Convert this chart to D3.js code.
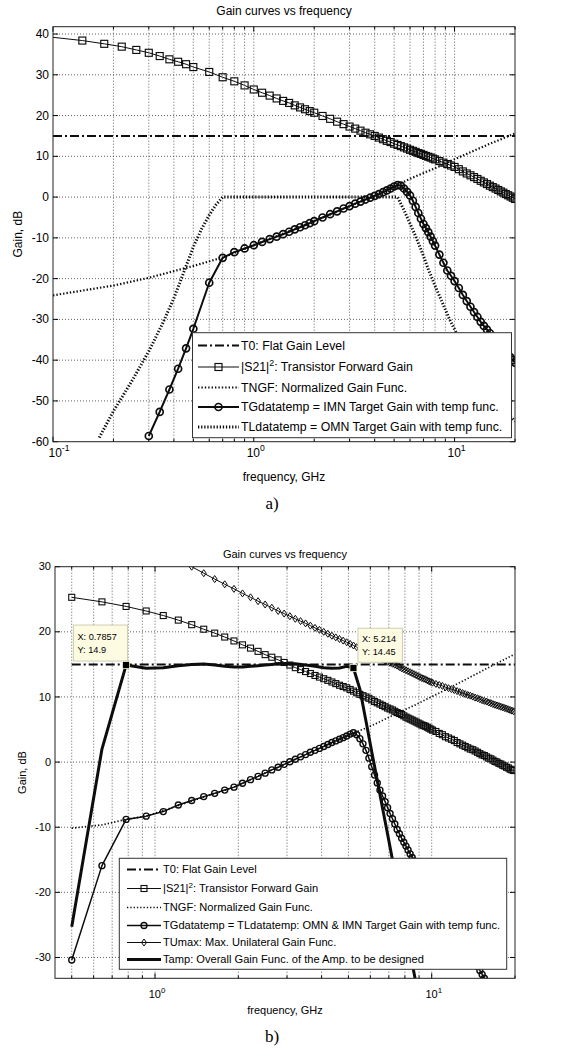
<!DOCTYPE html>
<html>
<head>
<meta charset="utf-8">
<script src="https://cdn.jsdelivr.net/npm/d3@7"></script>
<style>
  body { margin: 0; background: #fff; }
  svg { display: block; font-family: "Liberation Sans", Arial, sans-serif; }
</style>
</head>
<body>
<svg id="fig" width="563" height="1048"></svg>
<script>
// ---------- panel a) data ----------
const freqA = [0.1,0.14,0.18,0.22,0.26,0.3,0.34,0.38,0.42,0.46,0.5,0.6,0.7,0.8,0.9,1.0,1.1,1.2,1.3,1.4,1.5,1.6,1.7,1.8,1.9,2.0,
  2.2,2.4,2.6,2.8,3.0,3.2,3.4,3.6,3.8,4.0,4.2,4.4,4.6,4.8,5.0,5.2,5.4,5.6,5.8,6.0,6.2,6.4,6.6,6.8,7.0,7.2,7.4,7.6,7.8,8.0,
  8.4,8.8,9.2,9.6,10,10.5,11,11.5,12,12.5,13,13.5,14,14.5,15,15.5,16,16.5,17,17.5,18,18.5,19,19.5,20];
const s21A = [39.2,38.4,37.6,36.9,36.1,35.4,34.6,33.8,33.2,32.6,31.9,30.7,29.4,28.4,27.4,26.4,25.6,24.9,24.2,23.6,23.1,22.5,22.0,21.55,21.1,20.7,
  19.9,19.2,18.5,17.9,17.3,16.8,16.3,15.8,15.4,15.0,14.6,14.2,13.8,13.5,13.1,12.8,12.5,12.2,11.9,11.6,11.35,11.1,10.8,10.6,10.35,10.1,9.9,9.7,9.45,9.25,
  8.85,8.45,8.1,7.75,7.4,6.85,6.3,5.8,5.35,4.9,4.45,4.0,3.6,3.2,2.8,2.45,2.1,1.75,1.4,1.1,0.75,0.45,0.15,-0.15,-0.45];
const tgA = [null,null,null,null,null,-58.6,-52.7,-47.2,-42.1,-37.1,-32.3,-21.0,-14.9,-13.5,-12.6,-11.8,-11.0,-10.3,-9.7,-9.1,-8.5,-7.9,-7.4,-6.9,-6.4,-5.9,
  -5.0,-4.2,-3.5,-2.8,-2.2,-1.6,-1.1,-0.6,-0.15,0.3,0.75,1.2,1.65,2.1,2.6,2.95,2.8,2.1,1.3,0.4,-0.9,-2.4,-3.9,-5.3,-6.6,-7.6,-8.6,-9.7,-10.8,-11.9,
  -14.1,-16.1,-18.0,-19.3,-20.6,-22.3,-24.0,-25.5,-26.9,-28.2,-29.4,-30.6,-31.6,-32.5,-33.4,-34.2,-35.0,-35.7,-36.5,-37.2,-38.0,-38.7,-39.3,-40.0,-40.6];
const tngfFreqA = [0.1,0.2,0.3,0.5,0.7,1.0,2.0,3.0,4.0,5.2,6.0,7.0,8.0,10,12,15,20];
const tngfA = [-24.1,-21.7,-19.8,-16.9,-14.8,-11.8,-5.9,-2.2,0.3,2.95,4.5,5.9,7.1,9.3,11.0,13.1,15.6];
const tlFreqA = [0.17,0.2,0.25,0.3,0.35,0.4,0.45,0.5,0.55,0.6,0.65,0.7,5.2,5.6,6.0,6.4,7.0,7.4,8.0,8.7,9.4,10.2,12,15,20];
const tlA = [-59,-52.5,-44.7,-37.8,-31.2,-24.8,-18.2,-12.2,-7.8,-4.4,-1.8,0,0,-3.2,-6.5,-9.6,-14.4,-17.7,-21.8,-25.9,-29.8,-33.3,-40.5,-48.5,-55];
const t0FreqA = [0.1, 20];
const t0A = [15, 15];

// ---------- panel b) data ----------
const freqB = [0.5,0.643,0.786,0.929,1.071,1.214,1.357,1.5,1.643,1.786,1.929,2.071,2.214,2.357,2.5,2.643,2.786,2.929,
  3.071,3.214,3.357,3.5,3.643,3.786,3.929,4.071,4.214,4.357,4.5,4.643,4.786,4.929,5.071,5.214,5.357,5.5,5.643,5.786,5.929,
  6.071,6.214,6.357,6.5,6.643,6.786,6.929,7.071,7.214,7.357,7.5,7.643,7.786,7.929,8.071,8.214,8.357,8.5,8.643,8.786,8.929,
  9.071,9.214,9.357,9.5,9.643,9.786,9.929,10.071,
  10.357,10.643,10.929,11.214,11.5,11.786,12.071,12.357,12.643,12.929,13.214,13.5,13.786,14.071,14.357,14.643,14.929,
  15.214,15.5,15.786,16.071,16.357,16.643,16.929,17.214,17.5,17.786,18.071,18.357,18.643,18.929,19.214,19.5,19.786];
const s21B = [25.3,24.6,23.9,23.2,22.5,21.8,21.1,20.4,19.8,19.2,18.6,18.0,17.5,17.0,16.5,16.1,15.7,15.3,
  14.9,14.5,14.2,13.9,13.6,13.3,13.05,12.8,12.55,12.3,12.05,11.8,11.6,11.4,11.15,10.9,10.65,10.4,10.2,10.0,9.8,
  9.55,9.3,9.1,8.9,8.7,8.5,8.3,8.15,8.0,7.8,7.6,7.45,7.3,7.1,6.9,6.75,6.6,6.45,6.3,6.15,6.0,
  5.85,5.7,5.6,5.5,5.35,5.2,5.05,4.9,
  4.7,4.4,4.2,3.9,3.7,3.5,3.3,3.0,2.8,2.6,2.4,2.2,2.0,1.9,1.7,1.5,1.3,
  1.1,1.0,0.8,0.6,0.5,0.3,0.1,0.0,-0.2,-0.3,-0.5,-0.6,-0.8,-0.9,-1.1,-1.2,-1.3];
const tgB = [-30.4,-15.9,-8.8,-8.3,-7.6,-6.6,-5.9,-5.3,-4.8,-4.3,-3.85,-3.25,-2.7,-2.2,-1.7,-1.2,-0.8,-0.35,
  0.05,0.43,0.8,1.15,1.5,1.8,2.1,2.4,2.7,3.0,3.25,3.5,3.75,4.0,4.3,4.5,4.2,3.6,2.8,1.8,0.6,
  -0.7,-2.0,-3.2,-4.3,-5.2,-6.1,-7.0,-7.9,-8.7,-9.5,-10.35,-11.0,-11.7,-12.3,-12.9,-13.5,-14.1,-14.65,-15.2,-15.7,-16.2,
  -16.7,-17.2,-17.65,-18.1,-18.55,-19.0,-19.45,-19.9,
  -20.8,-21.6,-22.4,-23.2,-24.0,-24.7,-25.5,-26.2,-26.9,-27.6,-28.3,-28.9,-29.6,-30.2,-30.8,-31.4,-32.0,
  -32.6,-33.2,-33.7,-34.3,-34.8,-35.4,-35.9,-36.4,-36.9,-37.4,-37.9,-38.4,-38.8,-39.3,-39.8,-40.2,-40.7];
const tuB = [null,null,null,null,null,null,30.0,29.0,28.1,27.3,26.6,25.9,25.3,24.7,24.2,23.7,23.2,22.8,
  22.4,22.0,21.65,21.3,20.95,20.6,20.3,20.0,19.7,19.4,19.15,18.9,18.65,18.4,18.15,17.9,17.65,17.4,17.2,17.0,16.8,
  16.6,16.4,16.2,16.0,15.8,15.6,15.4,15.25,15.1,14.95,14.8,14.6,14.4,14.25,14.1,13.95,13.8,13.65,13.5,13.35,13.2,
  13.05,12.9,12.8,12.7,12.55,12.4,12.3,12.2,
  12.0,11.85,11.7,11.5,11.35,11.2,11.05,10.9,10.75,10.6,10.45,10.3,10.2,10.05,9.9,9.8,9.65,
  9.5,9.4,9.3,9.15,9.05,8.9,8.8,8.7,8.6,8.5,8.4,8.3,8.2,8.1,8.0,7.9,7.8];
const tampFreq = [0.5,0.643,0.786,0.929,1.071,1.214,1.357,1.5,1.643,1.786,1.929,2.071,2.214,2.357,2.5,2.643,2.786,2.929,
  3.214,3.5,3.786,4.071,4.357,4.643,4.929,5.214,5.5,5.786,6.071,6.357,6.643,6.929,7.214,7.5,7.786,8.071,8.357,8.643,8.929];
const tampB = [-25.3,2.0,14.9,14.4,14.5,14.8,15.0,15.05,14.9,14.7,14.6,14.6,14.7,14.8,14.9,15.0,15.1,15.15,
  15.1,14.9,14.7,14.5,14.4,14.45,14.7,14.45,11.2,6.3,1.6,-2.8,-7.1,-11.1,-15.0,-18.8,-22.4,-25.9,-29.2,-32.5,-35.6];
const tngfFreqB = [0.5,0.643,0.786,0.929,1.929,2.929,4.071,5.214,5.786,6.357,7.5,8.643,10.071,12.357,15.214,19.786];
const tngfB = [-10.15,-9.65,-8.8,-8.3,-3.85,-0.35,2.4,4.5,5.2,6.0,7.5,8.7,10.1,12.0,14.0,16.5];
const t0FreqB = [0.5, 20];
const t0B = [15, 15];
const tipF = [0.7857, 5.214];
const tipV = [14.9, 14.45];

const ticksA = [40,30,20,10,0,-10,-20,-30,-40,-50,-60];
const ticksB = [30,20,10,0,-10,-20,-30];

const svg = d3.select("#fig");
const INK = "#0d0d0d";

function marker(g, type, cx, cy, size, mw) {
  const h = size / 2;
  let m;
  if (type === "o") m = g.append("circle").attr("cx", cx).attr("cy", cy).attr("r", h);
  else if (type === "s") m = g.append("rect").attr("x", cx - h).attr("y", cy - h).attr("width", size).attr("height", size);
  else m = g.append("path").attr("d", `M${cx},${cy - h}L${cx + h * 0.72},${cy}L${cx},${cy + h}L${cx - h * 0.72},${cy}Z`);
  m.attr("fill", "none").attr("stroke", INK).attr("stroke-width", mw);
}

function richText(g, parts, x, y, fs, anchor) {
  const t = g.append("text").attr("x", x).attr("y", y).attr("font-size", fs)
    .attr("fill", "#000").attr("text-anchor", anchor || "start");
  let up = false;
  parts.forEach(p => {
    const sp = t.append("tspan").text(p.t);
    if (p.sup) { sp.attr("dy", -fs * 0.42).attr("font-size", fs * 0.72); up = true; }
    else if (up) { sp.attr("dy", fs * 0.42); up = false; }
  });
  return t;
}

function drawPanel(p) {
  const g = svg.append("g");
  const x = d3.scaleLog().domain(p.xDomain).range([p.left, p.right]);
  const y = d3.scaleLinear().domain(p.yDomain).range([p.bottom, p.top]);
  const xt = x.ticks();
  const isMajor = v => Math.abs(Math.log10(v) - Math.round(Math.log10(v))) < 1e-6;

  // grid
  const grid = g.append("g").attr("stroke", "#3a3a3a").attr("stroke-width", 0.8).attr("stroke-dasharray", "1,2");
  xt.filter(v => x(v) > p.left + 1 && x(v) < p.right - 1).forEach(v =>
    grid.append("line").attr("x1", x(v)).attr("x2", x(v)).attr("y1", p.top).attr("y2", p.bottom));
  p.yTicks.filter(v => y(v) > p.top + 1 && y(v) < p.bottom - 1).forEach(v =>
    grid.append("line").attr("x1", p.left).attr("x2", p.right).attr("y1", y(v)).attr("y2", y(v)));

  // data
  const clipId = "clip" + p.id;
  g.append("clipPath").attr("id", clipId).append("rect")
    .attr("x", p.left).attr("y", p.top).attr("width", p.right - p.left).attr("height", p.bottom - p.top);
  const dg = g.append("g").attr("clip-path", `url(#${clipId})`);
  p.series.forEach(s => {
    const pts = s.f.map((f, i) => [f, s.v[i]]).filter(d => d[1] !== null);
    dg.append("path")
      .attr("d", d3.line().x(d => x(d[0])).y(d => y(d[1]))(pts))
      .attr("fill", "none").attr("stroke", INK).attr("stroke-width", s.w)
      .attr("stroke-dasharray", s.dash || null).attr("stroke-linejoin", "round");
    if (s.mk) pts.filter(d => x(d[0]) > p.left + 1)
      .forEach(d => marker(dg, s.mk, x(d[0]), y(d[1]), s.ms, s.mw));
  });

  // ticks (inside, all four sides)
  const tk = g.append("g").attr("stroke", "#000").attr("stroke-width", 1);
  xt.forEach(v => {
    const L = isMajor(v) ? p.tick : p.tick * 0.55;
    tk.append("line").attr("x1", x(v)).attr("x2", x(v)).attr("y1", p.bottom).attr("y2", p.bottom - L);
    tk.append("line").attr("x1", x(v)).attr("x2", x(v)).attr("y1", p.top).attr("y2", p.top + L);
  });
  p.yTicks.forEach(v => {
    tk.append("line").attr("x1", p.left).attr("x2", p.left + p.tick).attr("y1", y(v)).attr("y2", y(v));
    tk.append("line").attr("x1", p.right).attr("x2", p.right - p.tick).attr("y1", y(v)).attr("y2", y(v));
  });
  g.append("rect").attr("x", p.left).attr("y", p.top).attr("width", p.right - p.left).attr("height", p.bottom - p.top)
    .attr("fill", "none").attr("stroke", "#222").attr("stroke-width", 1);

  // tick labels
  p.yTicks.forEach(v => g.append("text").attr("x", p.left - 4).attr("y", y(v)).attr("dy", "0.33em")
    .attr("text-anchor", "end").attr("font-size", p.fs).text(v));
  xt.filter(isMajor).forEach(v => {
    const edge = x(v) < p.left + 1 ? 6 : 2;
    richText(g, [{ t: "10" }, { t: String(Math.round(Math.log10(v))), sup: true }],
      x(v) + edge, p.xLabY, p.fs, "middle");
  });

  // titles
  const cx = (p.left + p.right) / 2;
  g.append("text").attr("x", cx).attr("y", p.titleY).attr("text-anchor", "middle").attr("font-size", p.fs).text("Gain curves vs frequency");
  g.append("text").attr("x", cx).attr("y", p.xTitleY).attr("text-anchor", "middle").attr("font-size", p.fs).text("frequency, GHz");
  g.append("text").attr("transform", `translate(${p.yTitleX},${(p.top + p.bottom) / 2}) rotate(-90)`)
    .attr("text-anchor", "middle").attr("font-size", p.fs).text("Gain, dB");
  g.append("text").attr("x", p.capX).attr("y", p.capY).attr("text-anchor", "middle")
    .attr("font-family", "'Liberation Serif', 'Times New Roman', serif").attr("font-size", 17).text(p.caption);

  // legend
  const lg = p.legend;
  g.append("rect").attr("x", lg.x0).attr("y", lg.y0).attr("width", lg.x1 - lg.x0).attr("height", lg.y1 - lg.y0)
    .attr("fill", "#fff").attr("stroke", "#333").attr("stroke-width", 1);
  lg.items.forEach((it, i) => {
    const yy = lg.rows[i], s = it.s;
    g.append("line").attr("x1", lg.s0).attr("x2", lg.s1).attr("y1", yy).attr("y2", yy)
      .attr("stroke", INK).attr("stroke-width", s.w).attr("stroke-dasharray", s.dash || null);
    if (s.mk) marker(g, s.mk, (lg.s0 + lg.s1) / 2, yy, s.ms, s.mw);
    richText(g, it.label, lg.tx, yy, lg.fs).attr("dy", "0.36em");
  });

  // data tips
  if (p.tips) p.tips.forEach(tp => {
    const mx = x(tp.f), my = y(tp.v);
    g.append("rect").attr("x", mx + tp.dx).attr("y", my + tp.dy).attr("width", tp.w).attr("height", tp.h)
      .attr("fill", "#fdfce2").attr("stroke", "#cfcdb0").attr("stroke-width", 1);
    g.append("text").attr("x", mx + tp.dx + 4).attr("y", my + tp.dy + tp.h * 0.41).attr("font-size", 9.2).text("X: " + tp.f);
    g.append("text").attr("x", mx + tp.dx + 4).attr("y", my + tp.dy + tp.h * 0.79).attr("font-size", 9.2).text("Y: " + tp.v);
    g.append("rect").attr("x", mx - 3.5).attr("y", my - 3.5).attr("width", 7).attr("height", 7)
      .attr("fill", "#000").attr("stroke", "#f4f2c8").attr("stroke-width", 0.8);
  });
}

// styles
const stT0 = { w: 2, dash: "9,3,2,3" };
const stS21a = { w: 1, mk: "s", ms: 7, mw: 1.15 };
const stTngfA = { w: 2.2, dash: "1.4,2" };
const stTgA = { w: 2, mk: "o", ms: 7, mw: 1.7 };
const stTlA = { w: 3, dash: "1.3,1.8" };
const stS21b = { w: 1, mk: "s", ms: 6, mw: 1.1 };
const stTngfB = { w: 1.7, dash: "1.3,2" };
const stTgB = { w: 1.5, mk: "o", ms: 6, mw: 1.4 };
const stTu = { w: 1, mk: "d", ms: 7, mw: 1 };
const stTamp = { w: 3 };

const lab = s => [{ t: s }];
const labS21 = [{ t: "|S21|" }, { t: "2", sup: true }, { t: ": Transistor Forward Gain" }];

drawPanel({
  id: "a", left: 53, right: 515, top: 26.7, bottom: 441.7, xDomain: [0.1, 20], yDomain: [-60, 41.8],
  yTicks: ticksA, fs: 12, tick: 5, xLabY: 456.5, titleY: 14.5, xTitleY: 480.5, yTitleX: 22, capX: 272, capY: 509, caption: "a)",
  series: [
    Object.assign({ f: t0FreqA, v: t0A }, stT0),
    Object.assign({ f: freqA, v: s21A }, stS21a),
    Object.assign({ f: tngfFreqA, v: tngfA }, stTngfA),
    Object.assign({ f: freqA, v: tgA }, stTgA),
    Object.assign({ f: tlFreqA, v: tlA }, stTlA)
  ],
  legend: {
    x0: 192.5, x1: 511.5, y0: 332.7, y1: 437.7, s0: 198, s1: 239, tx: 241, fs: 12.3,
    rows: [345.5, 367, 387.5, 407, 427],
    items: [
      { s: stT0, label: lab("T0: Flat Gain Level") },
      { s: stS21a, label: labS21 },
      { s: stTngfA, label: lab("TNGF: Normalized Gain Func.") },
      { s: stTgA, label: lab("TGdatatemp = IMN Target Gain with temp func.") },
      { s: stTlA, label: lab("TLdatatemp = OMN Target Gain with temp func.") }
    ]
  }
});

drawPanel({
  id: "b", left: 55, right: 515, top: 566.7, bottom: 978.3, xDomain: [0.435, 20], yDomain: [-33.2, 30],
  yTicks: ticksB, fs: 11, tick: 5, xLabY: 998, titleY: 557.5, xTitleY: 1014, yTitleX: 26, capX: 272, capY: 1041.5, caption: "b)",
  series: [
    Object.assign({ f: t0FreqB, v: t0B }, stT0),
    Object.assign({ f: freqB, v: s21B }, stS21b),
    Object.assign({ f: tngfFreqB, v: tngfB }, stTngfB),
    Object.assign({ f: freqB, v: tgB }, stTgB),
    Object.assign({ f: freqB, v: tuB }, stTu),
    Object.assign({ f: tampFreq, v: tampB }, stTamp)
  ],
  legend: {
    x0: 119.3, x1: 506.7, y0: 858.3, y1: 969.3, s0: 127, s1: 161, tx: 163, fs: 11.1,
    rows: [869.5, 888.5, 907.5, 925.5, 942.5, 959.5],
    items: [
      { s: stT0, label: lab("T0: Flat Gain Level") },
      { s: stS21b, label: labS21 },
      { s: stTngfB, label: lab("TNGF: Normalized Gain Func.") },
      { s: stTgB, label: lab("TGdatatemp = TLdatatemp: OMN & IMN Target Gain with temp func.") },
      { s: stTu, label: lab("TUmax: Max. Unilateral Gain Func.") },
      { s: stTamp, label: lab("Tamp: Overall Gain Func. of the Amp. to be designed") }
    ]
  },
  tips: [
    { f: tipF[0], v: tipV[0], dx: -52.6, dy: -40, w: 54, h: 36 },
    { f: tipF[1], v: tipV[1], dx: 4.5, dy: -39.7, w: 44.5, h: 34 }
  ]
});
</script>
</body>
</html>
